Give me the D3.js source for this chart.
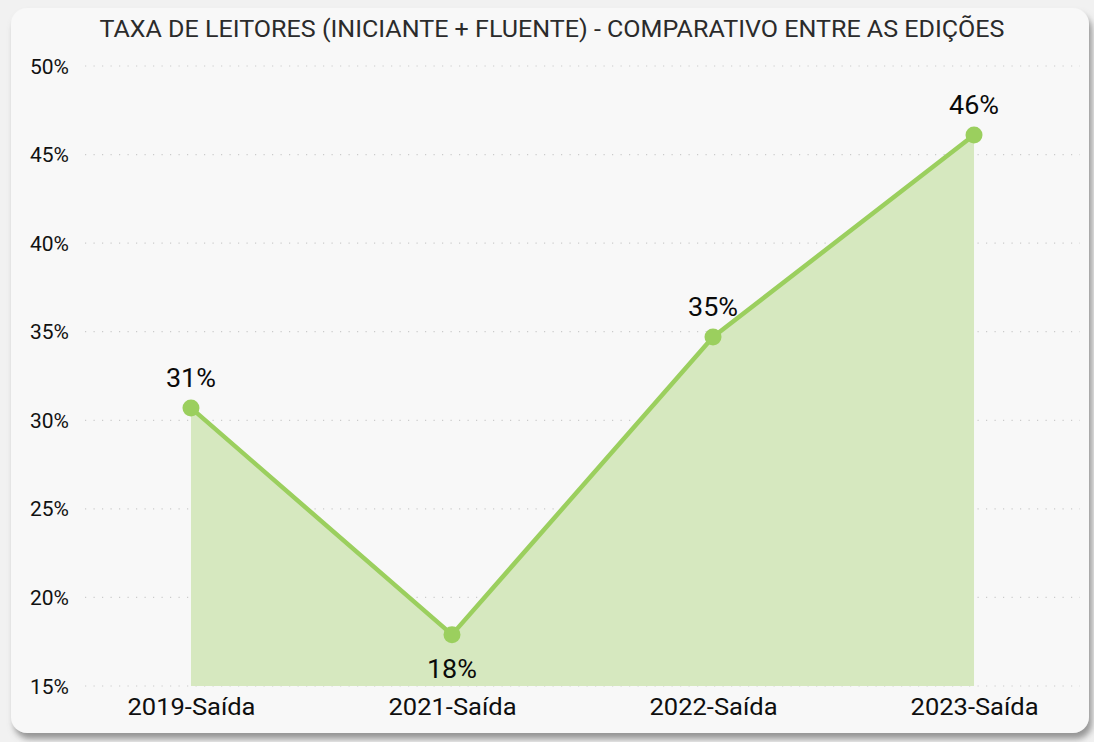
<!DOCTYPE html>
<html>
<head>
<meta charset="utf-8">
<script src="https://cdn.jsdelivr.net/npm/d3@7"></script>
<style>
  html, body { margin: 0; padding: 0; background: #f1f1f1; }
  svg { display: block; }
  text { font-family: Roboto, "Noto Sans", sans-serif; }
</style>
</head>
<body>
<svg id="chart" width="1094" height="742"></svg>
<script>
const title = "TAXA DE LEITORES (INICIANTE + FLUENTE) - COMPARATIVO ENTRE AS EDIÇÕES";
const categories = ["2019-Saída", "2021-Saída", "2022-Saída", "2023-Saída"];
const values = [30.7, 17.9, 34.7, 46.1];
const valueLabels = ["31%", "18%", "35%", "46%"];
const yTicks = [15, 20, 25, 30, 35, 40, 45, 50];

const W = 1094, H = 742;
const svg = d3.select("#chart");

const defs = svg.append("defs");
const f = defs.append("filter").attr("id", "shadow")
  .attr("x", "-5%").attr("y", "-5%").attr("width", "110%").attr("height", "115%");
f.append("feDropShadow").attr("dx", 3).attr("dy", 6).attr("stdDeviation", 3)
  .attr("flood-color", "#777").attr("flood-opacity", 0.75);

svg.append("rect").attr("x", 11).attr("y", 8).attr("width", 1078).attr("height", 725)
  .attr("rx", 16).attr("ry", 16).attr("fill", "#f8f8f8").attr("filter", "url(#shadow)");

const plot = { left: 85, right: 1080, top: 66, bottom: 686 };

const x = d3.scalePoint().domain(categories).range([plot.left, plot.right]).padding(0.406);
const y = d3.scaleLinear().domain([15, 50]).range([plot.bottom, plot.top]);

// title
svg.append("text").attr("x", 552).attr("y", 37).attr("text-anchor", "middle")
  .attr("font-size", 23).attr("fill", "#2b2b2b").attr("font-weight", 400)
  .attr("textLength", 905).attr("lengthAdjust", "spacingAndGlyphs")
  .text(title);

// grid
const grid = svg.append("g");
grid.selectAll("line").data(yTicks).join("line")
  .attr("x1", plot.left).attr("x2", plot.right)
  .attr("y1", d => y(d)).attr("y2", d => y(d))
  .attr("stroke", "#cbcbcb").attr("stroke-width", 1.2)
  .attr("stroke-dasharray", "1.2 7.3");

// y axis
const yAxis = svg.append("g").attr("transform", `translate(30,0)`)
  .call(d3.axisLeft(y).tickValues(yTicks).tickFormat(d => d + "%").tickSize(0));
yAxis.select(".domain").remove();
yAxis.selectAll("text").attr("text-anchor", "start").attr("x", 0).attr("dy", "0.35em")
  .attr("font-size", 20).attr("font-weight", 400).attr("fill", "#111")
  .attr("textLength", 39).attr("lengthAdjust", "spacingAndGlyphs")
  .style("font-family", "Roboto, sans-serif");

// x axis
const xAxis = svg.append("g").attr("transform", `translate(0,${plot.bottom})`)
  .call(d3.axisBottom(x).tickSize(0).tickPadding(12));
xAxis.select(".domain").remove();
xAxis.selectAll("text").attr("font-size", 24).attr("font-weight", 400).attr("fill", "#0f0f0f")
  .attr("dy", "0.71em").attr("textLength", 128).attr("lengthAdjust", "spacingAndGlyphs")
  .style("font-family", "Roboto, sans-serif");

const data = categories.map((c, i) => ({ c, v: values[i], l: valueLabels[i] }));

// area
svg.append("path").datum(data)
  .attr("d", d3.area().x(d => x(d.c)).y0(y(15)).y1(d => y(d.v)))
  .attr("fill", "#d6e8bf");

// line
svg.append("path").datum(data)
  .attr("d", d3.line().x(d => x(d.c)).y(d => y(d.v)))
  .attr("fill", "none").attr("stroke", "#9bcf5e").attr("stroke-width", 4.5)
  .attr("stroke-linejoin", "round");

// points
svg.append("g").selectAll("circle").data(data).join("circle")
  .attr("cx", d => x(d.c)).attr("cy", d => y(d.v)).attr("r", 8.5)
  .attr("fill", "#9bcf5e");

// labels
svg.append("g").selectAll("text").data(data).join("text")
  .attr("x", d => x(d.c))
  .attr("y", (d, i) => i === 1 ? y(d.v) + 43 : y(d.v) - 21)
  .attr("text-anchor", "middle")
  .attr("font-size", 25).attr("font-weight", 400).attr("fill", "#0a0a0a")
  .attr("textLength", 50).attr("lengthAdjust", "spacingAndGlyphs")
  .text(d => d.l);
</script>
</body>
</html>
